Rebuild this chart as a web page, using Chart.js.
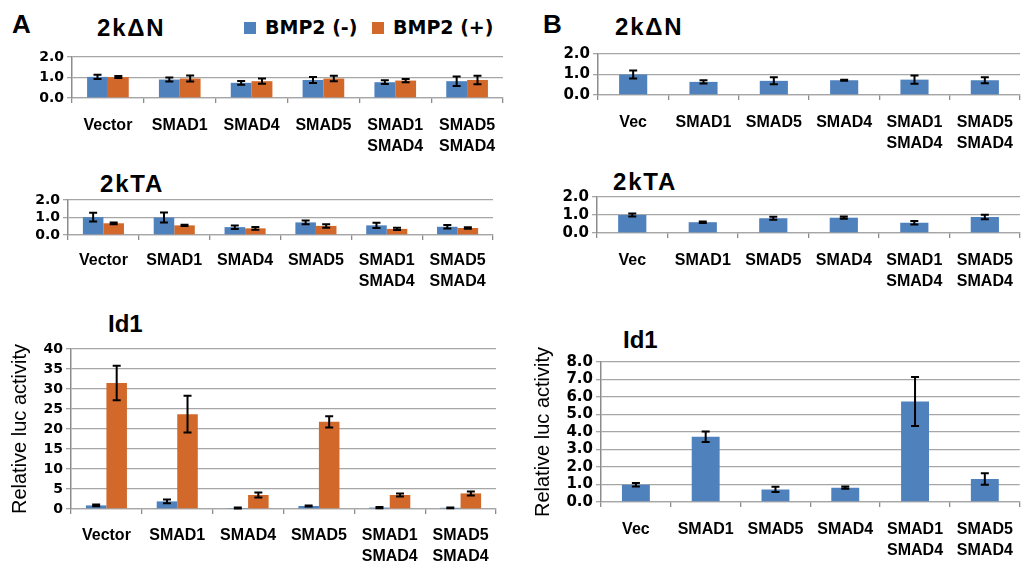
<!DOCTYPE html>
<html><head><meta charset="utf-8">
<script src="https://cdn.jsdelivr.net/npm/chart.js@4"></script>
<style>
body{margin:0;width:1025px;height:565px;background:#fff;position:relative;overflow:hidden;font-family:"Liberation Sans",Arial,sans-serif}
canvas{position:absolute}
.t{position:absolute;font-weight:bold;line-height:1;white-space:nowrap;color:#000}
.box{position:absolute;width:12px;height:12px}
</style></head><body>

<div class="t" style="left:12px;top:11px;font-size:26px">A</div>
<div class="t" style="left:543px;top:11px;font-size:26px">B</div>
<div class="t" style="left:97px;top:16px;font-size:24px;letter-spacing:1.8px">2kΔN</div>
<div class="t" style="left:615px;top:15px;font-size:24px;letter-spacing:1.8px">2kΔN</div>
<div class="t" style="left:100px;top:172px;font-size:24px;letter-spacing:1.8px">2kTA</div>
<div class="t" style="left:613px;top:170px;font-size:24px;letter-spacing:1.8px">2kTA</div>
<div class="t" style="left:108px;top:312px;font-size:24px">Id1</div>
<div class="t" style="left:623px;top:328px;font-size:24px">Id1</div>

<div class="box" style="left:244px;top:22px;background:#4F81BD"></div>
<div class="t" style="left:265px;top:18px;font-size:19px;font-family:'DejaVu Sans'">BMP2 (-)</div>
<div class="box" style="left:372px;top:22px;background:#D2692B"></div>
<div class="t" style="left:393px;top:18px;font-size:19px;font-family:'DejaVu Sans'">BMP2 (+)</div>

<canvas id="aTop" width="520" height="120" style="left:0;top:40px"></canvas>
<canvas id="aMid" width="520" height="115" style="left:0;top:185px"></canvas>
<canvas id="aBot" width="520" height="235" style="left:0;top:330px"></canvas>
<canvas id="bTop" width="505" height="120" style="left:520px;top:40px"></canvas>
<canvas id="bMid" width="505" height="115" style="left:520px;top:185px"></canvas>
<canvas id="bBot" width="505" height="235" style="left:520px;top:330px"></canvas>

<script>
// ---- categories ----
const categoriesA = ['Vector', 'SMAD1', 'SMAD4', 'SMAD5', ['SMAD1', 'SMAD4'], ['SMAD5', 'SMAD4']];
const categoriesB = ['Vec', 'SMAD1', 'SMAD5', 'SMAD4', ['SMAD1', 'SMAD4'], ['SMAD5', 'SMAD4']];
const seriesNames = ['BMP2 (-)', 'BMP2 (+)'];

// ---- Panel A: 2kΔN ----
const aDN_minus = [1.03, 0.90, 0.74, 0.88, 0.77, 0.82];
const aDN_minusErr = [0.10, 0.10, 0.09, 0.15, 0.09, 0.23];
const aDN_plus = [1.02, 0.95, 0.82, 0.95, 0.85, 0.88];
const aDN_plusErr = [0.05, 0.15, 0.13, 0.13, 0.08, 0.21];

// ---- Panel A: 2kTA ----
const aTA_minus = [1.02, 1.00, 0.45, 0.72, 0.55, 0.47];
const aTA_minusErr = [0.25, 0.28, 0.10, 0.11, 0.15, 0.10];
const aTA_plus = [0.67, 0.55, 0.38, 0.52, 0.35, 0.40];
const aTA_plusErr = [0.05, 0.04, 0.08, 0.10, 0.06, 0.04];

// ---- Panel A: Id1 ----
const aId_minus = [0.9, 1.9, 0.25, 0.75, 0.35, 0.3];
const aId_minusErr = [0.2, 0.45, 0.1, 0.15, 0.15, 0.1];
const aId_plus = [31.5, 23.7, 3.5, 21.8, 3.5, 3.9];
const aId_plusErr = [4.3, 4.6, 0.6, 1.4, 0.35, 0.5];

// ---- Panel B ----
const bDN = [1.00, 0.64, 0.69, 0.72, 0.75, 0.72];
const bDN_err = [0.20, 0.08, 0.17, 0.03, 0.20, 0.15];
const bTA = [1.00, 0.60, 0.82, 0.85, 0.57, 0.89];
const bTA_err = [0.08, 0.04, 0.08, 0.06, 0.10, 0.13];
const bId = [0.99, 3.73, 0.72, 0.82, 5.74, 1.31];
const bId_err = [0.10, 0.30, 0.15, 0.06, 1.40, 0.33];

// ---- y tick values ----
const smallTicks = [0, 1, 2];
const aIdTicks = [0, 5, 10, 15, 20, 25, 30, 35, 40];
const bIdTicks = [0, 1, 2, 3, 4, 5, 6, 7, 8];

const smallAxis = {ticks: smallTicks, fmt: v => v.toFixed(1)};
const aIdAxis = {ticks: aIdTicks, fmt: v => String(v)};
const bIdAxis = {ticks: bIdTicks, fmt: v => v.toFixed(1)};

const BLUE = '#4F81BD', ORANGE = '#D2692B';

const errorBars = {
  id: 'errorBars',
  afterDatasetsDraw(chart) {
    const ctx = chart.ctx, ys = chart.scales.y;
    ctx.save();
    ctx.strokeStyle = '#000';
    ctx.lineWidth = 2;
    chart.data.datasets.forEach((ds, di) => {
      const meta = chart.getDatasetMeta(di);
      meta.data.forEach((bar, i) => {
        const v = ds.data[i], e = ds.errors[i];
        const yt = ys.getPixelForValue(v + e), yb = ys.getPixelForValue(v - e);
        const x = bar.x, h = 4;
        ctx.beginPath();
        ctx.moveTo(x, yt); ctx.lineTo(x, yb);
        ctx.moveTo(x - h, yt); ctx.lineTo(x + h, yt);
        ctx.moveTo(x - h, yb); ctx.lineTo(x + h, yb);
        ctx.stroke();
      });
    });
    ctx.restore();
  }
};

function makeChart(id, labels, datasets, axis, geo) {
  const tv = axis.ticks;
  new Chart(document.getElementById(id), {
    type: 'bar',
    data: {labels, datasets},
    plugins: [errorBars],
    options: {
      responsive: false, animation: false, devicePixelRatio: 1,
      layout: {padding: {top: geo.padTop, right: geo.padRight, left: 0, bottom: 0}},
      plugins: {legend: {display: false}, tooltip: {enabled: false}},
      datasets: {bar: {categoryPercentage: geo.cat, barPercentage: 1.0, borderWidth: 0}},
      scales: {
        x: {
          type: 'category',
          afterFit: s => { s.height = geo.xh; },
          grid: {display: true, offset: true, drawOnChartArea: false, drawTicks: true, tickLength: 5, color: '#8c8c8c', lineWidth: 1.3},
          border: {display: true, color: '#a6a6a6', width: 1.3},
          ticks: {autoSkip: false, maxRotation: 0, color: '#000', padding: geo.xpad,
                  font: {family: 'Liberation Sans', size: 16, weight: 'bold', lineHeight: 1.3}}
        },
        y: {
          min: tv[0], max: tv[tv.length - 1],
          afterFit: s => { s.width = geo.yw; },
          afterBuildTicks: s => { s.ticks = tv.map(v => ({value: v})); },
          grid: {color: '#a6a6a6', lineWidth: 1.3, tickLength: 5, drawTicks: true},
          border: {display: true, color: '#8c8c8c', width: 1.5},
          ticks: {autoSkip: false, callback: axis.fmt, color: '#000', padding: 3,
                  font: {family: 'DejaVu Sans', size: geo.yfs, weight: 'bold'}},
          title: geo.ytitle ? {display: true, text: 'Relative luc activity', color: '#000',
                  padding: {top: geo.ytp, bottom: 0},
                  font: {family: 'Liberation Sans', size: 20, weight: 'normal', lineHeight: 1.2}} : {display: false}
        }
      }
    }
  });
}

function pair(m, me, p, pe) {
  return [
    {label: seriesNames[0], data: m, errors: me, backgroundColor: BLUE},
    {label: seriesNames[1], data: p, errors: pe, backgroundColor: ORANGE}
  ];
}
function single(v, e) {
  return [{label: seriesNames[0], data: v, errors: e, backgroundColor: BLUE}];
}

makeChart('aTop', categoriesA, pair(aDN_minus, aDN_minusErr, aDN_plus, aDN_plusErr), smallAxis,
  {padTop: 17, padRight: 17, yw: 72, xh: 62, xpad: 12, cat: 0.58, yfs: 14});
makeChart('aMid', categoriesA, pair(aTA_minus, aTA_minusErr, aTA_plus, aTA_plusErr), smallAxis,
  {padTop: 15, padRight: 27, yw: 68, xh: 65, xpad: 10, cat: 0.58, yfs: 14});
makeChart('aBot', categoriesA, pair(aId_minus, aId_minusErr, aId_plus, aId_plusErr), aIdAxis,
  {padTop: 19, padRight: 24, yw: 71, xh: 56, xpad: 11, cat: 0.58, ytitle: true, ytp: 8, yfs: 14});
makeChart('bTop', categoriesB, single(bDN, bDN_err), smallAxis,
  {padTop: 14, padRight: 2, yw: 78, xh: 65, xpad: 12, cat: 0.40, yfs: 15});
makeChart('bMid', categoriesB, single(bTA, bTA_err), smallAxis,
  {padTop: 12, padRight: 2, yw: 77, xh: 67, xpad: 12, cat: 0.40, yfs: 15});
makeChart('bBot', categoriesB, single(bId, bId_err), bIdAxis,
  {padTop: 32, padRight: 2, yw: 81, xh: 63, xpad: 12, cat: 0.40, ytitle: true, ytp: 11, yfs: 15});
</script>
</body></html>
